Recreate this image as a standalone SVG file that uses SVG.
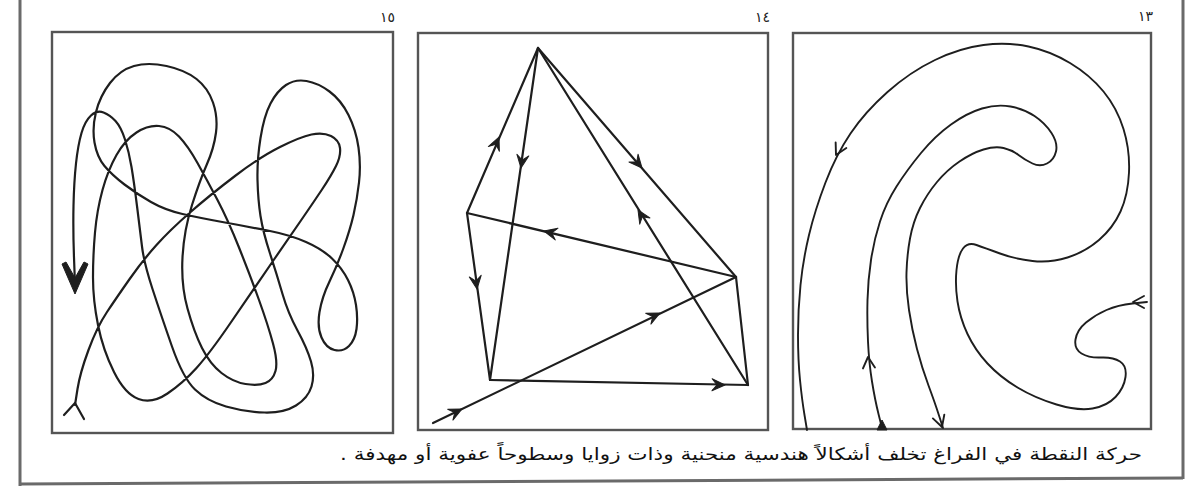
<svg xmlns="http://www.w3.org/2000/svg" xmlns:xlink="http://www.w3.org/1999/xlink" width="1189" height="486" viewBox="0 0 1189 486">
<style>
.frame{fill:none;stroke:#555;stroke-width:2.4}
.outer{fill:none;stroke:#6a6a6a;stroke-width:3}
.ln{fill:none;stroke:#1e1e1e;stroke-width:2.2;stroke-linejoin:round;stroke-linecap:round}
.thin{fill:none;stroke:#1e1e1e;stroke-width:1.9;stroke-linejoin:round;stroke-linecap:round}
.num{font-family:'DejaVu Sans',sans-serif;font-size:14px;fill:#222}
.cap{font-family:'DejaVu Sans',sans-serif;font-size:17px;fill:#111}
.ah{fill:#1e1e1e;stroke:#1e1e1e;stroke-width:1;stroke-linejoin:round}
</style>
<defs>
<path id="ah" d="M0,0 L-13,-6 L-8,0 L-13,6 Z"/>
<path id="av" d="M-11,-6 L0,0 L-11,6"/>
</defs>
<rect width="1189" height="486" fill="#fff"/>
<g id="outer-frame">
<line class="outer" x1="20" y1="0" x2="20" y2="486"/>
<line class="outer" x1="1183" y1="0" x2="1183" y2="479"/>
<line class="outer" x1="20" y1="484" x2="1183" y2="478"/>
</g>
<g id="panel-15">
<rect class="frame" x="52" y="32" width="341" height="401"/>
<text class="num" x="395" y="22" text-anchor="end">١٥</text>
<path class="ln" d="M75,405 L77.5,389 Q80,373 88.5,350 Q97,327 107,312 Q117,297 130,278.5 Q143,260 156.5,245 Q170,230 190,212.5 Q210,195 235,176 Q260,157 280,147 Q300,137 311.5,134.5 Q323,132 331,136 Q339,140 340,148 Q341,156 336,166 Q331,176 322,189.5 Q313,203 303,217.5 Q293,232 273,261 Q253,290 231.5,321.5 Q210,353 196.5,368 Q183,383 167.5,393.5 Q152,404 138.5,399 Q125,394 114,372 Q103,350 98,325 Q93,300 93,277.5 Q93,255 95,232.5 Q97,210 102.5,190 Q108,170 116.5,155 Q125,140 136.5,132.5 Q148,125 159,126 Q170,127 179,136.5 Q188,146 197.5,163 Q207,180 217.5,200 Q228,220 239,247.5 Q250,275 259,300 Q268,325 273,343.5 Q278,362 275.5,371 Q273,380 265.5,383 Q258,386 245.5,384 Q233,382 221.5,373 Q210,364 202,348 Q194,332 187.5,308.5 Q181,285 182.5,257.5 Q184,230 192,205 Q200,180 207,164 Q214,148 216,132.5 Q218,117 213,102.5 Q208,88 196.5,79 Q185,70 166.5,66 Q148,62 134,66 Q120,70 110,83 Q100,96 96,112 Q92,128 94.5,142.5 Q97,157 104.5,166 Q112,175 124.5,184.5 Q137,194 151,202 Q165,210 182.5,214 Q200,218 225,222.5 Q250,227 270,231 Q290,235 306,242 Q322,249 332,258.5 Q342,268 348,280 Q354,292 356,305 Q358,318 356.5,329 Q355,340 349,346 Q343,352 334.5,350 Q326,348 321.5,337.5 Q317,327 319.5,312 Q322,297 329.5,281.5 Q337,266 343.5,248 Q350,230 353.5,215 Q357,200 359,182.5 Q361,165 358.5,147.5 Q356,130 348.5,115 Q341,100 329.5,91.5 Q318,83 306.5,81 Q295,79 286,85 Q277,91 270.5,103.5 Q264,116 260.5,138 Q257,160 257.5,180 Q258,200 260.5,216 Q263,232 270,253.5 Q277,275 282.5,294 Q288,313 297.5,330.5 Q307,348 311,361.5 Q315,375 311.5,386.5 Q308,398 296,405.5 Q284,413 264.5,412.5 Q245,412 226,406.5 Q207,401 195,389.5 Q183,378 172,346.5 Q161,315 152.5,289 Q144,263 142,246.5 Q140,230 137,206 Q134,182 131.5,167 Q129,152 125,139.5 Q121,127 115.5,121 Q110,115 103.5,112.5 Q97,110 91,115.5 Q85,121 81.5,133 Q78,145 76,163.5 Q74,182 73.5,206 Q73,230 74,257.5 L75,285"/>
<path class="ln" d="M64,415 L75,403 L84,419"/>
<path class="ah" d="M75,294 L62,264 L66,262 L75,278 L84,262 L88,264 Z"/>
</g>
<g id="panel-14">
<rect class="frame" x="418" y="33" width="350" height="397"/>
<text class="num" x="770" y="22" text-anchor="end">١٤</text>
</g>
<g id="panel-13">
<rect class="frame" x="793" y="33" width="358" height="396"/>
<text class="num" x="1153" y="21" text-anchor="end">١٣</text>
<path class="thin" d="M807,430 L804.5,415 Q802,400 800,380 Q798,360 798,335 Q798,310 800.5,285 Q803,260 809,235 Q815,210 825.5,182.5 Q836,155 850.5,133.5 Q865,112 887.5,92 Q910,72 935,60 Q960,48 983.5,45 Q1007,42 1028.5,46.5 Q1050,51 1070,63 Q1090,75 1103.5,91.5 Q1117,108 1123.5,129 Q1130,150 1129,172.5 Q1128,195 1120.5,211.5 Q1113,228 1099,240 Q1085,252 1067.5,257.5 Q1050,263 1032.5,261 Q1015,259 1000,253.5 Q985,248 976.5,245 Q968,242 963,248.5 Q958,255 956.5,270 Q955,285 957.5,301.5 Q960,318 967.5,334 Q975,350 987.5,363.5 Q1000,377 1017.5,387.5 Q1035,398 1056.5,404.5 Q1078,411 1092.5,408.5 Q1107,406 1115.5,397 Q1124,388 1125.5,377 Q1127,366 1120,361.5 Q1113,357 1101,357.5 Q1089,358 1081.5,353.5 Q1074,349 1075.5,339.5 Q1077,330 1086,322.5 Q1095,315 1106.5,310 Q1118,305 1132.5,303.5 L1147,302"/>
<path class="thin" d="M882,428 L878.5,414 Q875,400 872,381.5 Q869,363 868,341.5 Q867,320 867.5,300 Q868,280 871,260 Q874,240 880,221.5 Q886,203 896.5,186.5 Q907,170 921,153 Q935,136 951,124.5 Q967,113 982,108.5 Q997,104 1010.5,106.5 Q1024,109 1034.5,116 Q1045,123 1051.5,133 Q1058,143 1056,151.5 Q1054,160 1047,163.5 Q1040,167 1032.5,163.5 Q1025,160 1018.5,155 Q1012,150 1003.5,148 Q995,146 983.5,149.5 Q972,153 959.5,161.5 Q947,170 937,182 Q927,194 920,208 Q913,222 910,238.5 Q907,255 906.5,272.5 Q906,290 909,310 Q912,330 917,349 Q922,368 928.5,385.5 Q935,403 939,415.5 L943,428"/>
<use href="#av" class="thin" transform="translate(836,155) rotate(117)"/>
<use href="#av" class="thin" transform="translate(868,357) rotate(-95)"/>
<use href="#av" class="thin" transform="translate(942,427) rotate(72)"/>
<use href="#av" class="thin" transform="translate(1133,302) rotate(180)"/>
<path class="ah" d="M877,430 L887,430 L882,420 Z"/>
</g>
<g id="connectors">
<g class="ln">
<line x1="538" y1="48" x2="467" y2="213"/>
<line x1="538" y1="48" x2="490" y2="380"/>
<line x1="538" y1="48" x2="736" y2="277"/>
<line x1="538" y1="48" x2="748" y2="385"/>
<line x1="467" y1="213" x2="736" y2="277"/>
<line x1="467" y1="213" x2="490" y2="380"/>
<line x1="490" y1="380" x2="748" y2="385"/>
<line x1="736" y1="277" x2="748" y2="385"/>
<line x1="433" y1="423" x2="736" y2="277"/>
</g>
<use href="#ah" class="ah" transform="translate(499,137) rotate(-66.7)"/>
<use href="#ah" class="ah" transform="translate(521,168) rotate(98.2)"/>
<use href="#ah" class="ah" transform="translate(642,168) rotate(49.2)"/>
<use href="#ah" class="ah" transform="translate(638,210) rotate(-121.8)"/>
<use href="#ah" class="ah" transform="translate(544,231) rotate(-166.6)"/>
<use href="#ah" class="ah" transform="translate(477,289) rotate(82.2)"/>
<use href="#ah" class="ah" transform="translate(725,385) rotate(1.1)"/>
<use href="#ah" class="ah" transform="translate(462,409) rotate(-25.8)"/>
<use href="#ah" class="ah" transform="translate(660,313) rotate(-25.8)"/>
</g>
<text class="cap" x="1142" y="460" direction="rtl" text-anchor="start" textLength="802" lengthAdjust="spacingAndGlyphs">حركة النقطة في الفراغ تخلف أشكالاً هندسية منحنية وذات زوايا وسطوحاً عفوية أو مهدفة .</text>
</svg>
